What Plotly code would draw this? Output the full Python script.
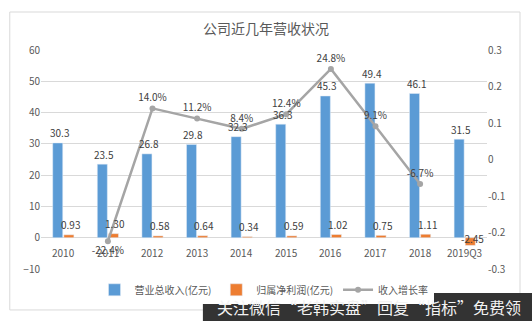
import plotly.graph_objects as go

categories = ["2010", "2011", "2012", "2013", "2014", "2015", "2016", "2017", "2018", "2019Q3"]
revenue = [30.3, 23.5, 26.8, 29.8, 32.3, 36.3, 45.3, 49.4, 46.1, 31.5]
profit = [0.93, 1.30, 0.58, 0.64, 0.34, 0.59, 1.02, 0.75, 1.11, -2.45]
growth = [None, -0.224, 0.140, 0.112, 0.084, 0.124, 0.248, 0.091, -0.067, None]
left_ticks = [-10, 0, 10, 20, 30, 40, 50, 60]
right_ticks = [-0.3, -0.2, -0.1, 0, 0.1, 0.2, 0.3]
right_tick_text = ["-0.3", "-0.2", "-0.1", "0", "0.1", "0.2", "0.3"]

FONT = "Noto Sans CJK SC, Noto Sans, sans-serif"
LBL = dict(size=10, color="#404040", family=FONT)
fig = go.Figure()
fig.add_trace(go.Bar(x=categories, y=revenue, name="营业总收入(亿元)", marker_color="#5B9BD5"))
fig.add_trace(go.Bar(x=categories, y=profit, name="归属净利润(亿元)", marker_color="#ED7D31"))
lbl_pos = ["top center"] * len(categories)
lbl_pos[1] = "bottom center"
fig.add_trace(go.Scatter(
    x=categories, y=growth, name="收入增长率", yaxis="y2", mode="lines+markers+text",
    line=dict(color="#A5A5A5", width=2.5), marker=dict(size=6, color="#A5A5A5"),
    text=[None if g is None else f"{g*100:.1f}%" for g in growth],
    textposition=lbl_pos, textfont=LBL,
    connectgaps=False, cliponaxis=False,
))

# data labels for bars (x given as category index)
for i, c in enumerate(categories):
    fig.add_annotation(x=i, y=revenue[i], text=f"{revenue[i]:.1f}", showarrow=False,
                       xshift=-4, yshift=10, font=LBL)
    if profit[i] >= 0:
        fig.add_annotation(x=i, y=profit[i], text=f"{profit[i]:.2f}", showarrow=False,
                           xshift=7, yshift=10, font=LBL)
    else:
        fig.add_annotation(x=i, y=profit[i], text=f"{profit[i]:.2f}", showarrow=False,
                           xshift=8, yshift=7, font=LBL)
    # category labels just below zero line
    fig.add_annotation(x=i, y=0, text=c, showarrow=False, yshift=-15,
                       font=dict(size=10, color="#595959", family=FONT))

fig.update_layout(
    width=532, height=321,
    margin=dict(l=41, r=45, t=50, b=52),
    paper_bgcolor="white", plot_bgcolor="white",
    font=dict(family=FONT, color="#595959", size=10),
    title=dict(text="公司近几年营收状况", x=0.5, xanchor="center", y=1 - 29 / 321, yanchor="middle",
               font=dict(size=14, color="#595959")),
    barmode="group", bargap=0.5, bargroupgap=0.1,
    showlegend=True,
    legend=dict(orientation="h", x=0.5, xanchor="center", y=-0.095, yanchor="middle",
                font=dict(size=10, color="#595959"), itemwidth=30, traceorder="normal"),
    xaxis=dict(type="category", range=[-0.5, len(categories) - 0.5], autorange=False,
               showgrid=False, showline=False, ticks="", showticklabels=False),
    yaxis=dict(range=[-10, 60], tickvals=left_ticks, showgrid=True, gridcolor="#D9D9D9",
               gridwidth=1, zeroline=False, showline=False, tickfont=dict(size=10, color="#595959")),
    yaxis2=dict(range=[-0.3, 0.3], tickvals=right_ticks, ticktext=right_tick_text, overlaying="y",
                side="right", showgrid=False, zeroline=False, showline=False,
                tickfont=dict(size=10, color="#595959")),
)

# outer chart border
fig.add_shape(type="rect", xref="paper", yref="paper", x0=-0.07, x1=1.074, y0=-0.187, y1=1.1735,
              line=dict(color="#D9D9D9", width=1), fillcolor="rgba(0,0,0,0)", layer="below")
# watermark banner
fig.add_shape(type="rect", xref="paper", yref="paper", x0=0.363, x1=1.12, y0=-0.24, y1=-0.11,
              line=dict(width=0), fillcolor="#333333", layer="above")
fig.add_annotation(text="关注微信“老韩实盘”回复“指标”免费领", xref="paper", yref="paper",
                   x=0.736, y=-0.175, xanchor="center", yanchor="middle", showarrow=False,
                   font=dict(size=16, color="#F2F2F2", family=FONT))

fig.write_html("out.html")
